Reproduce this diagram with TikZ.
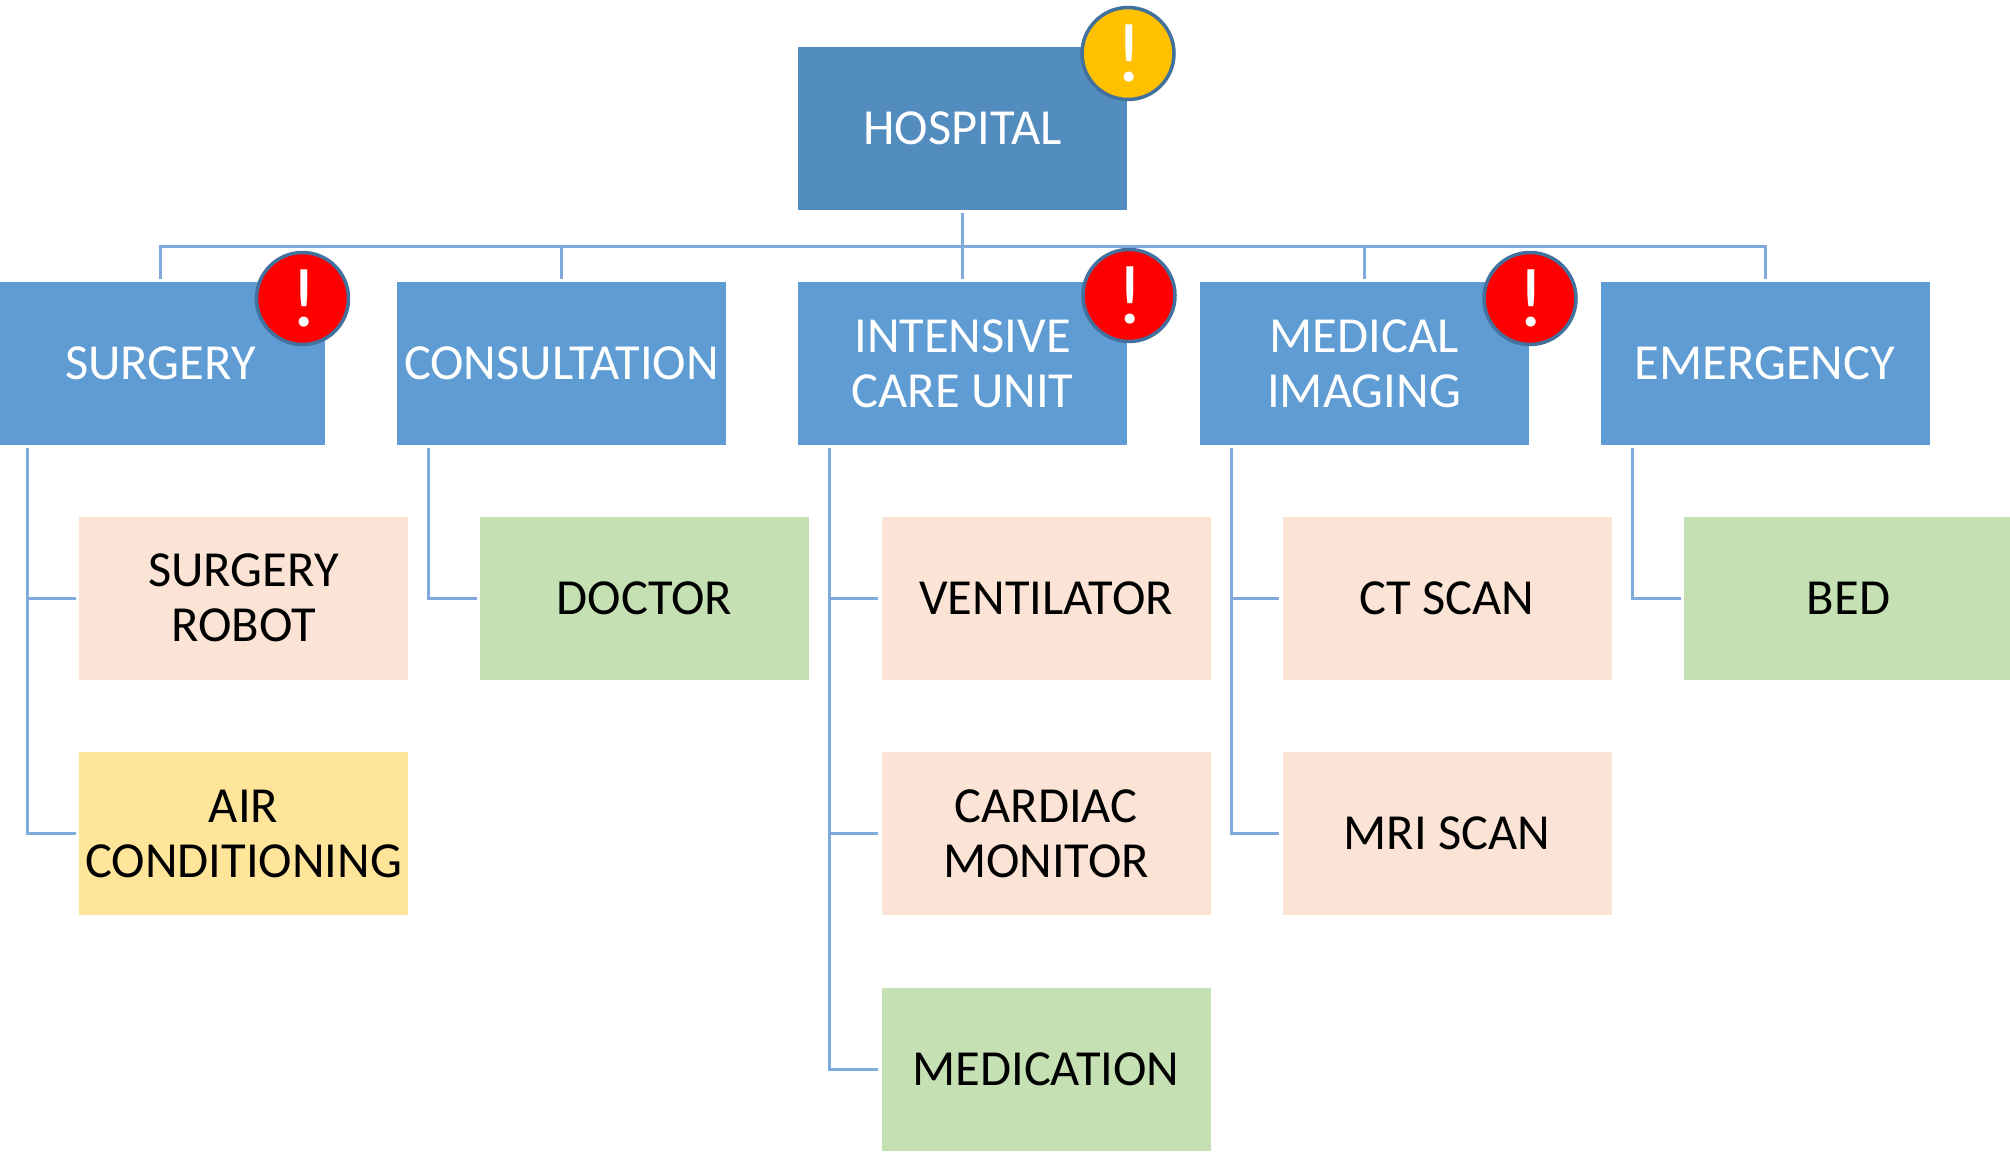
\documentclass[tikz,border=0pt]{standalone}
\usepackage{fontspec}
\setmainfont{Carlito}
\definecolor{topblue}{HTML}{538CBE}
\definecolor{midblue}{HTML}{5E9CD3}
\definecolor{peach}{HTML}{FBE4D5}
\definecolor{leafgreen}{HTML}{C5E0B3}
\definecolor{leafyellow}{HTML}{FEE599}
\definecolor{linkblue}{HTML}{7FAADB}
\definecolor{ringblue}{HTML}{41719C}
\definecolor{amber}{HTML}{FFC000}
\tikzset{
  x=1pt,y=-1pt,
  boxbase/.style={rectangle,minimum width=329pt,minimum height=163pt,inner sep=0pt,align=center,
    font=\fontsize{50.5}{55}\selectfont},
  topbox/.style={boxbase,fill=topblue,text=white},
  midbox/.style={boxbase,fill=midblue,text=white},
  peachbox/.style={boxbase,fill=peach,text=black},
  greenbox/.style={boxbase,fill=leafgreen,text=black},
  yellowbox/.style={boxbase,fill=leafyellow,text=black},
  conn/.style={draw=linkblue,line width=3pt},
  gapped/.style={shorten <=3pt,shorten >=3pt},
  alert/.style={circle,minimum size=92pt,inner sep=0pt,draw=ringblue,line width=3.5pt,text=white,
    font=\fontsize{84}{84}\selectfont},
}
\newcommand{\bang}{\hspace*{3pt}\raisebox{-9pt}{!}}
\begin{document}
\begin{tikzpicture}
\useasboundingbox (0,0) rectangle (2010,1153);
\node[topbox] (hospital) at (962.5,128.5) {HOSPITAL};
\node[midbox] (surgery) at (160.5,363.5) {SURGERY};
\node[midbox] (consult) at (561.5,363.5) {CONSULTATION};
\node[midbox] (icu) at (962.5,363.5) {INTENSIVE\\CARE UNIT};
\node[midbox] (imaging) at (1364,363.5) {MEDICAL\\IMAGING};
\node[midbox] (emergency) at (1765,363.5) {EMERGENCY};
\node[peachbox] (robot) at (243.5,598) {SURGERY\\ROBOT};
\node[yellowbox] (air) at (243.5,833.5) {AIR\\CONDITIONING};
\node[greenbox] (doctor) at (644.5,598) {DOCTOR};
\node[peachbox] (vent) at (1046,598) {VENTILATOR};
\node[peachbox] (cardiac) at (1046,833.5) {CARDIAC\\MONITOR};
\node[greenbox] (medication) at (1046,1069) {MEDICATION};
\node[peachbox] (ct) at (1447,598) {CT SCAN};
\node[peachbox] (mri) at (1447,833.5) {MRI SCAN};
\node[greenbox] (bed) at (1848.5,598) {BED};
\coordinate (busL) at (160.5,246);
\coordinate (busR) at (1765,246);
\draw[conn] ([yshift=-3pt]hospital.south) -- ([yshift=3pt]icu.north);
\draw[conn,line cap=rect] (busL) -- (busR);
\draw[conn] (busL) -- ([yshift=3pt]surgery.north);
\draw[conn] (consult.north |- busL) -- ([yshift=3pt]consult.north);
\draw[conn] (imaging.north |- busL) -- ([yshift=3pt]imaging.north);
\draw[conn] (busR) -- ([yshift=3pt]emergency.north);
\foreach \p/\c in {surgery/robot,surgery/air,consult/doctor,icu/vent,icu/cardiac,icu/medication,imaging/ct,imaging/mri,emergency/bed}
  \draw[conn,gapped] ([xshift=32pt]\p.south west) |- (\c.west);
\node[alert,fill=amber] (warnhospital) at (1128,53.5) {\bang};
\node[alert,fill=red] (warnsurgery) at (302.5,298.5) {\bang};
\node[alert,fill=red] (warnicu) at (1129,295.5) {\bang};
\node[alert,fill=red] (warnimaging) at (1530,298.5) {\bang};
\end{tikzpicture}
\end{document}
